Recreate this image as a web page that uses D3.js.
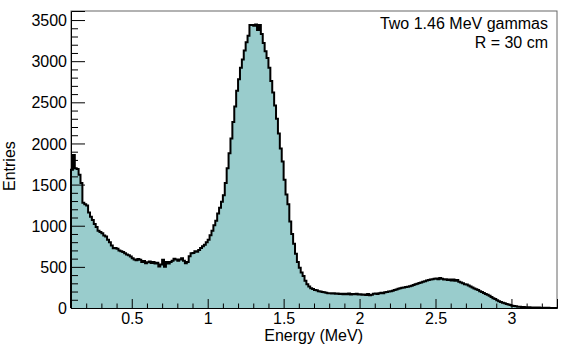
<!DOCTYPE html>
<html><head><meta charset="utf-8">
<script src="https://cdn.jsdelivr.net/npm/d3@7"></script>
<style>body{margin:0;background:#fff}svg{display:block}text{font-family:"Liberation Sans",Arial,sans-serif}</style>
</head><body>
<svg id="c" width="568" height="351"></svg>
<script>
// Histogram: 256 bins of 0.0125 MeV from 0.1 to 3.3 MeV
const binStart = 0.1, binWidth = 0.0125;
const counts = [
 1680,1860,1700,1690,1620,1520,1280,1260,
 1245,1160,1110,1070,1020,985,940,925,
 910,880,870,830,800,760,725,730,
 720,700,690,680,665,650,640,625,
 605,590,580,595,585,560,570,545,
 555,565,548,560,540,550,505,530,
 585,500,560,540,560,575,600,590,
 575,590,605,575,545,560,630,665,
 670,690,685,705,730,750,770,800,
 830,885,940,1005,1060,1150,1220,1290,
 1370,1520,1700,1880,2060,2260,2450,2640,
 2780,2920,3020,3130,3230,3310,3440,3440,
 3430,3445,3380,3440,3330,3220,3120,3040,
 2920,2760,2620,2460,2300,2120,1940,1780,
 1560,1380,1260,1050,900,780,660,560,
 490,430,390,330,290,260,240,230,
 220,215,205,200,195,190,185,180,
 178,175,180,172,176,170,174,168,
 172,168,175,165,170,166,172,164,
 168,160,165,158,170,155,162,172,
 175,170,180,185,178,190,195,200,
 205,210,220,225,235,240,245,250,
 255,258,265,270,280,290,295,305,
 310,318,325,335,340,345,350,355,
 360,350,365,355,345,350,340,345,
 335,345,330,340,320,310,300,290,
 285,275,262,250,238,228,218,205,
 195,182,170,160,148,135,120,108,
 95,82,72,64,57,50,42,35,
 28,24,20,16,14,12,11,10,
 9,8,7,7,6,5,5,4,
 3,3,2,2,1,1,1,0
];
const xTicks = [0.5, 1, 1.5, 2, 2.5, 3];
const yTicks = [0, 500, 1000, 1500, 2000, 2500, 3000, 3500];
const xLabel = "Energy (MeV)";
const yLabel = "Entries";
const legendLines = ["Two 1.46 MeV gammas", "R = 30 cm"];

const svg = d3.select("#c");
const L = 71, R = 557, T = 11, B = 308;
const x = d3.scaleLinear().domain([0.1, 3.3]).range([L, R]);
const y = d3.scaleLinear().domain([0, 3610]).range([B, T]);

const bins = counts.map((v, i) => ({x0: binStart + i * binWidth, x1: binStart + (i + 1) * binWidth, v}));
const pts = [];
bins.forEach(b => { pts.push([b.x0, b.v]); pts.push([b.x1, b.v]); });

// frame
svg.append("rect").attr("x", L).attr("y", T).attr("width", R - L).attr("height", B - T)
  .attr("fill", "none").attr("stroke", "#666").attr("stroke-width", 1);

// fill
const area = d3.area().x(d => x(d[0])).y0(y(0)).y1(d => y(d[1]));
svg.append("path").datum(pts).attr("d", area).attr("fill", "#99cccc");
// outline
const line = d3.line().x(d => x(d[0])).y(d => y(d[1]));
const outline = [[bins[0].x0, 0], ...pts, [bins[bins.length - 1].x1, 0]];
svg.append("path").datum(outline).attr("d", line).attr("fill", "none")
  .attr("stroke", "#000").attr("stroke-width", 2).attr("stroke-linejoin", "miter");

// axes
const fs = 16;
const xMinor = d3.range(2, 33).map(i => i / 10).filter(v => Math.abs(v * 2 - Math.round(v * 2)) > 1e-6);
const yMinor = d3.range(1, 36).map(i => i * 100).filter(v => v % 500 !== 0);

const gx = svg.append("g").attr("transform", `translate(0,${B})`)
  .call(d3.axisBottom(x).tickValues(xTicks).tickSize(-9).tickFormat(d3.format("~g")));
gx.select(".domain").attr("stroke", "#000");
gx.selectAll("text").attr("font-size", fs).attr("fill", "#000").attr("y", 16).attr("dy", 0);
const gxm = svg.append("g").attr("transform", `translate(0,${B})`)
  .call(d3.axisBottom(x).tickValues(xMinor).tickSize(-4.5).tickFormat(""));
gxm.select(".domain").remove();

const gy = svg.append("g").attr("transform", `translate(${L},0)`)
  .call(d3.axisLeft(y).tickValues(yTicks).tickSize(-14).tickFormat(d3.format("d")));
gy.select(".domain").attr("stroke", "#000");
gy.selectAll("text").attr("font-size", fs).attr("fill", "#000").attr("x", -4).attr("dy", "0.35em");
const gym = svg.append("g").attr("transform", `translate(${L},0)`)
  .call(d3.axisLeft(y).tickValues(yMinor).tickSize(-7).tickFormat(""));
gym.select(".domain").remove();

svg.selectAll(".tick line").attr("stroke", "#000");

// labels
svg.append("text").attr("x", 363).attr("y", 341).attr("text-anchor", "end")
  .attr("font-size", fs).text(xLabel);
svg.append("text").attr("transform", "translate(15,191) rotate(-90)").attr("text-anchor", "start")
  .attr("font-size", fs).text(yLabel);

// legend text
legendLines.forEach((t, i) => {
  svg.append("text").attr("x", 548).attr("y", 29 + i * 19).attr("text-anchor", "end")
    .attr("font-size", fs).text(t);
});
</script>
</body></html>
